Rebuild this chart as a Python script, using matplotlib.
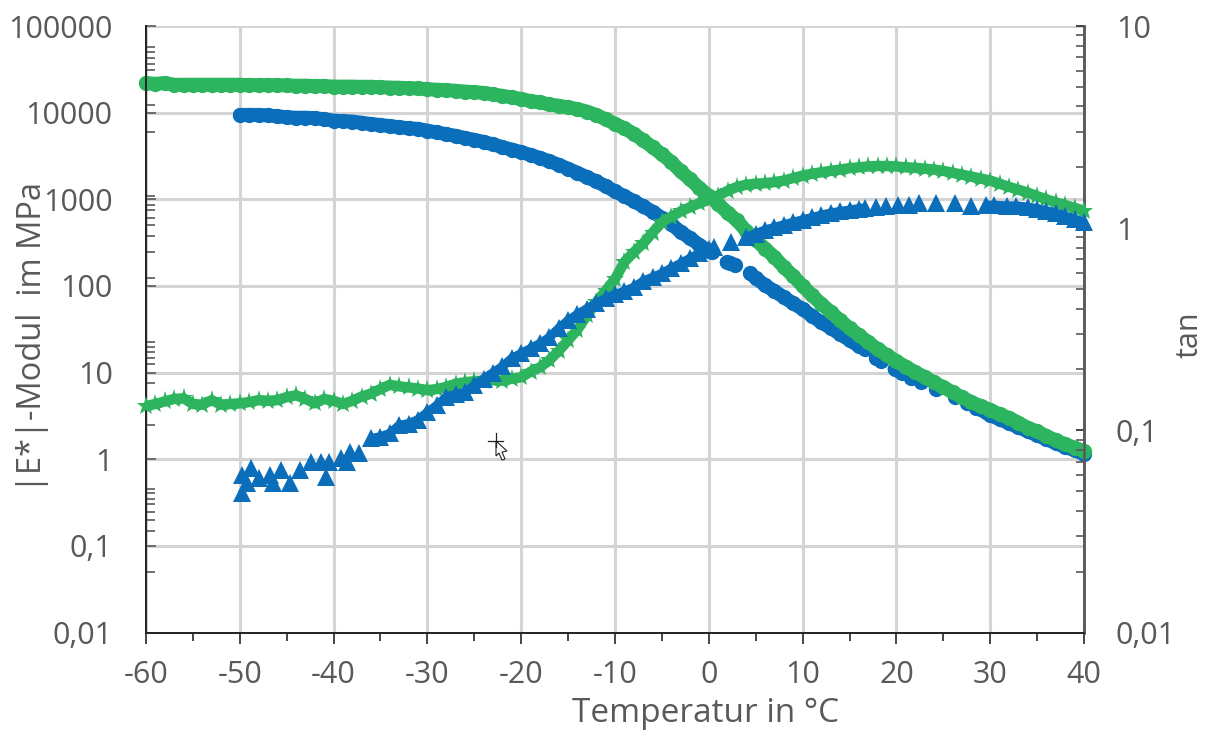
import matplotlib
matplotlib.use("Agg")
import matplotlib.pyplot as plt
from matplotlib.lines import Line2D
from matplotlib.patches import Polygon
import numpy as np

nan = float("nan")
plt.rcParams["font.family"] = ["Open Sans", "DejaVu Sans"]

GREEN = "#2DB45F"
BLUE = "#0A6EBB"
GREY = "#595959"

# |E*| green circles, one value per degree from -60 to 40
temp_green = np.arange(-60, 41)
modul_green = [22000, 21500, 22000, 21000, 21000, 21000, 21000, 21000, 21000, 21000,
               21000, 20800, 20800, 20800, 20800, 20600, 20500, 20500, 20300, 20300,
               20000, 20000, 20000, 19900, 19900, 19700, 19500, 19400, 19200, 19000,
               18700, 18400, 18200, 17900, 17500, 17300, 16900, 16300, 15600, 15000,
               14400, 13600, 13100, 12500, 12000, 11500, 11000, 10300, 9400, 8400,
               7400, 6600, 5700, 4800, 4000, 3300, 2700, 2100, 1700, 1350,
               1100, 890, 700, 570, 430, 340, 270, 215, 165, 130,
               100, 78, 62, 50, 40, 32.6, 27, 22.5, 18.6, 15.9,
               13.5, 11.7, 10.1, 8.9, 7.7, 6.8, 5.9, 5.2, 4.55, 4.1,
               3.7, 3.3, 3.0, 2.65, 2.3, 2.1, 1.85, 1.65, 1.49, 1.36,
               1.24]

# tan green stars, same temperatures
tan_green = [.132, .135, .139, .143, .144, .135, .134, .141, .134, .135,
             .136, .138, .141, .140, .141, .146, .149, .143, .136, .143,
             .140, .135, .140, .147, .152, .160, .168, .165, .163, .161,
             .158, .160, .164, .170, .173, .175, .176, .177, .176, .180,
             .183, .195, .205, .222, .247, .279, .315, .37, .43, .49,
             .56, .68, .76, .84, .95, 1.07, 1.14, 1.21, 1.27, 1.33,
             1.38, 1.45, 1.53, 1.6, 1.64, 1.66, 1.67, 1.69, 1.72, 1.77,
             1.82, 1.86, 1.89, 1.92, 1.95, 1.98, 2.0, 2.02, 2.03, 2.03,
             2.02, 2.0, 1.99, 1.97, 1.95, 1.92, 1.88, 1.84, 1.8, 1.76,
             1.72, 1.66, 1.6, 1.55, 1.5, 1.44, 1.39, 1.34, 1.3, 1.26,
             1.22]

# |E*| blue circles, nan marks the gaps in the measurement
temp_blue = [-50, -49, -48, -47, -46, -45, -44, -43, -42, -41,
             -40, -39, -38, -37, -36, -35, -34, -33, -32, -31,
             -30, -29, -28, -27, -26, -25, -24, -23, -22, -21,
             -20, -19, -18, -17, -16, -15, -14, -13, -12, -11,
             -10, -9, -8, -7, -6, -5, -4, -3, -2, -1, 0, 0.3, nan,
             1.9, 2.3, 2.8, nan,
             4.4, 5, 6, 7, 8, 9, 10, 11, 12, 13, 14, 15, 16, 16.6, nan,
             17.8, 18.4, nan, 19.8, 20.6, nan, 21.6, nan, 22.6, nan, 24.2, nan, 26.2, nan, 27.5, nan,
             28.5, 29.5, 30, 31, 32, 33, 34, 35, 36, 37, 38, 39, 40]
modul_blue = [9420, 9420, 9420, 9300, 9100, 8850, 8750, 8750, 8650, 8400,
              8100, 8000, 7900, 7650, 7400, 7200, 7000, 6800, 6600, 6500,
              6200, 5900, 5650, 5400, 5100, 4850, 4600, 4300, 4000, 3750,
              3500, 3250, 3000, 2750, 2500, 2250, 2020, 1800, 1610, 1420,
              1230, 1090, 950, 830, 720, 610, 518, 419, 357, 297, 253, 245, nan,
              187, 182, 175, nan,
              140, 123, 102, 87, 74, 63, 54, 45, 38, 32.6, 27.8, 23.7, 20.2, 18.8, nan,
              14.7, 13.5, nan, 11, 9.8, nan, 8.6, nan, 7.7, nan, 6.4, nan, 5.2, nan, 4.4, nan,
              3.9, 3.5, 3.2, 2.9, 2.6, 2.34, 2.1, 1.89, 1.7, 1.53, 1.38, 1.27, 1.14]

# tan blue triangles
temp_tri = [-49.8, nan, -49.8, nan, -49.2, nan, -48.8, nan, -47.9, nan, -46.8, nan, -46.5, nan,
            -45.6, nan, -44.7, nan, -43.6, nan, -42.4, nan, -41.3, nan, -40.8, nan, -40.5, nan,
            -39.2, nan, -38.6, nan, -38.2, nan, -37.3, nan,
            -36, -35, -34, -33, -32, -31, -30, -29, -28, -27,
            -26, -25, -24, -23, -22, -21, -20, -19, -18, -17,
            -16, -15, -14, -13, -12, -11, -10, -9, -8, -7,
            -6, -5, -4, -3, -2, -1, 0, 0.6, nan,
            2.4, nan,
            4, 5, 6, 7, 8, 9, 10, 11, 12, 13, 14, 15, 16, 16.6, nan,
            17.8, nan, 18.9, nan, 20.2, nan, 21.3, nan, 22.4, nan, 24.2, nan, 26.2, nan, 28, nan,
            29.5, 30.4, 31.8, 32.8, 34, 35, 36, 37, 38, 39, 40]
tan_tri = [.0599, nan, .0488, nan, .0547, nan, .0648, nan, .0579, nan, .0599, nan, .0547, nan,
           .0634, nan, .0547, nan, .0634, nan, .0694, nan, .0694, nan, .0590, nan, .0694, nan,
           .0727, nan, .0694, nan, .0778, nan, .0769, nan,
           .0912, .093, .0966, .106, .108, .113, .123, .133, .146, .151,
           .154, .167, .18, .193, .207, .227, .24, .254, .269, .288,
           .32, .35, .375, .40, .425, .45, .47, .488, .51, .547,
           .572, .598, .634, .67, .71, .752, .787, .805, nan,
           .853, nan,
           .902, .94, .98, 1.01, 1.04, 1.07, 1.10, 1.13, 1.16, 1.19, 1.21, 1.23, 1.25, 1.26, nan,
           1.27, nan, 1.29, nan, 1.30, nan, 1.30, nan, 1.33, nan, 1.33, nan, 1.33, nan, 1.29, nan,
           1.30, 1.30, 1.29, 1.29, 1.27, 1.25, 1.22, 1.19, 1.15, 1.11, 1.07]

x_ticks = [-60, -50, -40, -30, -20, -10, 0, 10, 20, 30, 40]
x_minor = [-55, -45, -35, -25, -15, -5, 5, 15, 25, 35]
left_ticks = [0.01, 0.1, 1, 10, 100, 1000, 10000, 100000]
left_labels = ["0,01", "0,1", "1", "10", "100", "1000", "10000", "100000"]
left_minor = [56500, 50700, 43200, 36600, 30900, 12300, 6050, 1105, 857, 743, 611, 499, 376, 246, 123,
              22.7, 19.7, 17.5, 14.8, 12.4, 7.5, 2.45, .448, .403, .35, .301, .246, .197, .149, .0503]
right_ticks = [0.01, 0.1, 1, 10]
right_labels = ["0,01", "0,1", "1", "10"]

fig = plt.figure(figsize=(12.07, 7.3), dpi=100)
ax = fig.add_axes([146 / 1207, 1 - 632.5 / 730, 938 / 1207, 606.5 / 730])
ax2 = ax.twinx()

ax.set_xlim(-60, 40)
ax.set_yscale("log")
ax.set_ylim(0.01, 100000)
ax2.set_yscale("log")
ax2.set_ylim(0.01, 10)
ax.set_axisbelow(True)
ax.grid(True, which="major", color="#D4D4D4", lw=2.2)

# circles go on the first axis, stars and triangles on the second
ax.plot(temp_blue, modul_blue, "-o", color=BLUE, ms=11, mew=0, lw=10,
        solid_capstyle="round", clip_on=False, zorder=3)
ax.plot(temp_green, modul_green, "-o", color=GREEN, ms=11, mew=0, lw=10,
        solid_capstyle="round", clip_on=False, zorder=4)
ax2.plot(temp_green, tan_green, "-*", color=GREEN, ms=14, mew=0, lw=7.5,
         solid_capstyle="butt", clip_on=False, zorder=3)
ax2.plot(temp_tri, tan_tri, "-^", color=BLUE, ms=12.5, mew=0, lw=6.5,
         solid_capstyle="butt", clip_on=False, zorder=4)

ax.set_xticks(x_ticks)
ax.set_xticks(x_minor, minor=True)
ax.set_xticklabels([str(t) for t in x_ticks])
ax.set_yticks(left_ticks)
ax.set_yticklabels(left_labels)
ax.set_yticks(left_minor, minor=True)
ax.set_yticklabels([], minor=True)
ax2.set_yticks(right_ticks)
ax2.set_yticklabels(right_labels)
ax2.set_yticks([m * d for d in [0.01, 0.1, 1] for m in range(2, 10)], minor=True)
ax2.set_yticklabels([], minor=True)

ax.tick_params(axis="x", which="major", direction="out", length=8, width=1.2, color="#262626",
               labelsize=22, labelcolor=GREY, pad=12)
ax.tick_params(axis="x", which="minor", direction="out", length=6, width=1.2, color="#262626")
ax.tick_params(axis="y", which="major", direction="in", length=7, width=1.2, color=GREY,
               labelsize=22, labelcolor=GREY, pad=24)
ax.tick_params(axis="y", which="minor", direction="in", length=6.5, width=1.2, color=GREY)
ax2.tick_params(axis="y", which="major", direction="in", length=6, width=1.2, color="#262626",
                labelsize=22, labelcolor=GREY, pad=23)
ax2.tick_params(axis="y", which="minor", direction="in", length=6, width=1.2, color=GREY)

for a in (ax, ax2):
    a.spines["top"].set_visible(False)
    a.spines["left"].set_color("#262626")
    a.spines["left"].set_linewidth(1.4)
    a.spines["bottom"].set_color("#262626")
    a.spines["bottom"].set_linewidth(1.4)
    a.spines["right"].set_color(GREY)
    a.spines["right"].set_linewidth(1.8)

fig.text(706 / 1207, 1 - 713 / 730, "Temperatur in °C", fontsize=24, color=GREY, ha="center", va="center")
fig.text(33 / 1207, 1 - 337 / 730, "|E*|-Modul  im MPa", fontsize=23.5, color=GREY, rotation=90,
         ha="center", va="center")
fig.text(1190 / 1207, 1 - 335 / 730, "tan", fontsize=22, color=GREY, rotation=90, ha="center", va="center")


# mouse pointer left in the screenshot
def fp(x, y):
    return x / 1207, 1 - y / 730


pointer = [(496, 441), (496, 456), (499, 453), (502, 460), (505, 459), (502, 452), (507, 451)]
fig.add_artist(Polygon([fp(*p) for p in pointer], closed=True, facecolor="white", edgecolor="#222222",
                       lw=0.8, transform=fig.transFigure))
fig.add_artist(Line2D(*zip(fp(488, 441), fp(503, 441)), color="#222222", lw=0.9, transform=fig.transFigure))
fig.add_artist(Line2D(*zip(fp(496, 433), fp(496, 447)), color="#222222", lw=0.9, transform=fig.transFigure))

fig.savefig("out.png", dpi=100)
